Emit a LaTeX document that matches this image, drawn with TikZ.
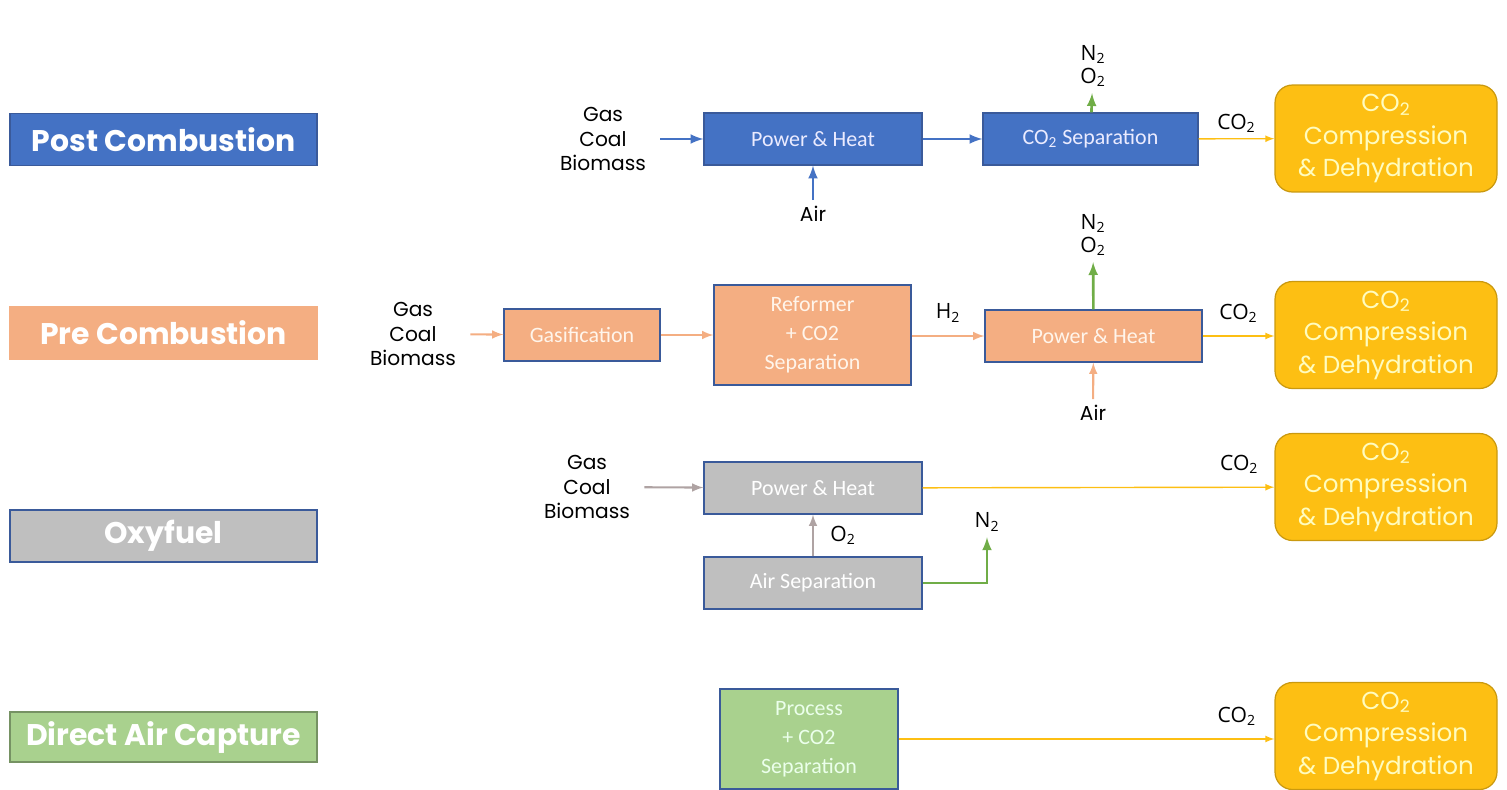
\documentclass[tikz,border=0pt]{standalone}
\usepackage{fontspec}
\setmainfont{Poppins}
\newfontfamily\boxfont{Carlito}
\newfontfamily\gasfont{Open Sans}
\usepackage{tikz}
\usetikzlibrary{arrows}

\definecolor{postblue}{HTML}{4472C4}
\definecolor{preorange}{HTML}{F4AE82}
\definecolor{oxygray}{HTML}{BFBFBF}
\definecolor{dacgreen}{HTML}{A9D18E}
\definecolor{compgold}{HTML}{FDBF13}
\definecolor{edgeblue}{HTML}{3A5A9A}
\definecolor{ventgreen}{HTML}{70AD47}
\definecolor{feedgray}{HTML}{AFA3A3}

\begin{document}
\begin{tikzpicture}[x=0.02cm, y=-0.02cm,
    route/.style = {draw, line width=0.8pt, minimum width=6.14cm, minimum height=1.04cm, text=white, font=\fontsize{17}{20}\selectfont\bfseries},
    unit/.style = {draw=edgeblue, line width=0.7pt, minimum height=1.04cm, align=center, inner sep=0pt, font=\boxfont\fontsize{12.5}{16.5}\selectfont},
    comp/.style = {draw=compgold!80!black, line width=0.7pt, fill=compgold, rounded corners=0.35cm, minimum width=4.44cm, minimum height=2.14cm, align=center, text=yellow!25, font=\fontsize{14}{18.5}\selectfont},
    feed/.style = {align=center, inner xsep=8pt, text=black, font=\fontsize{11.5}{14}\selectfont},
    gas/.style = {align=center, text=black, font=\gasfont\fontsize{12}{13.5}\selectfont}]
                \useasboundingbox (0, 0) rectangle (1507, 789);

                % pathway names
                \node[route, fill=postblue, draw=edgeblue] at (163.5, 139.5) (post) {Post Combustion};
                \node[route, fill=preorange, draw=preorange] at (163.5, 333) (pre) {Pre Combustion};
                \node[route, fill=oxygray, draw=edgeblue] at (163.5, 536) (oxy) {Oxyfuel};
                \node[route, fill=dacgreen, draw=dacgreen!70!black, minimum height=1.0cm] at (163.5, 737) (dac) {Direct Air Capture};

                % post combustion
                \node[feed] at (603, 139) (fuel1) {Gas\\Coal\\Biomass};
                \node[unit, fill=postblue, text=blue!8, minimum width=4.36cm] at (813, 139) (heat1) {Power \& Heat};
                \node[unit, fill=postblue, text=blue!8, minimum width=4.3cm] at (1090.5, 139) (sep1) {CO\textsubscript{2} Separation};
                \node[comp] at (1386, 138.5) (comp1) {CO\textsubscript{2}\\Compression\\\& Dehydration};
                \node[feed] at (813, 214) (air1) {Air};
                \node[gas] at (1093, 66) (vent1) {N\textsubscript{2}\\O\textsubscript{2}};

                \draw [-latex, postblue, line width=1.5pt] (fuel1) -- (heat1);
                \draw [-latex, postblue, line width=1.5pt] (heat1) -- (sep1);
                \draw [-latex, postblue, line width=1.5pt] (air1) -- (heat1);
                \draw [-latex, ventgreen, line width=1.5pt] (sep1) -- (vent1);
                \draw [-latex, compgold, line width=0.8pt] (sep1) -- (comp1) node [midway, above, gas] {CO\textsubscript{2}};

                % pre combustion
                \node[feed] at (413, 334) (fuel2) {Gas\\Coal\\Biomass};
                \node[unit, fill=preorange, text=orange!8, minimum width=3.12cm] at (582, 335) (gasif) {Gasification};
                \node[unit, fill=preorange, text=orange!8, minimum width=3.94cm, minimum height=2.0cm] at (812.5, 335) (reform) {Reformer\\+ CO2\\Separation};
                \node[unit, fill=preorange, text=orange!8, minimum width=4.34cm] at (1093.5, 336) (heat2) {Power \& Heat};
                \node[comp] at (1386, 335) (comp2) {CO\textsubscript{2}\\Compression\\\& Dehydration};
                \node[feed] at (1093, 413) (air2) {Air};
                \node[gas] at (1093, 235) (vent2) {N\textsubscript{2}\\O\textsubscript{2}};

                \draw [-latex, preorange, line width=1.2pt] (fuel2) -- (gasif);
                \draw [-latex, preorange, line width=1.2pt] (gasif) -- (reform);
                \draw [-latex, preorange, line width=1.2pt] (reform.east |- heat2) -- (heat2) node [midway, above=4pt, gas] {H\textsubscript{2}};
                \draw [-latex, preorange, line width=1.2pt] (air2) -- (heat2);
                \draw [-latex, ventgreen, line width=1.5pt] (heat2) -- (vent2);
                \draw [-latex, compgold, line width=0.8pt] (heat2) -- (comp2.west |- heat2) node [midway, above=4pt, gas] {CO\textsubscript{2}};

                % oxyfuel
                \node[feed] at (587, 487) (fuel3) {Gas\\Coal\\Biomass};
                \node[unit, fill=oxygray, text=white, minimum width=4.36cm] at (813, 488) (heat3) {Power \& Heat};
                \node[unit, fill=oxygray, text=white, minimum width=4.36cm] at (813, 583) (airsep) {Air Separation};
                \node[comp] at (1386, 487) (comp3) {CO\textsubscript{2}\\Compression\\\& Dehydration};
                \node[gas] at (987, 522) (vent3) {N\textsubscript{2}};

                \draw [-latex, feedgray, line width=1.2pt] (fuel3) -- (heat3);
                \draw [-latex, feedgray, line width=1.2pt] (airsep) -- (heat3) node [midway, right=6pt, gas] {O\textsubscript{2}};
                \draw [-latex, ventgreen, line width=1.5pt] (airsep) -| (vent3);
                \draw [-latex, compgold, line width=0.8pt] (heat3) -- (comp3) node [pos=0.9, above=4pt, gas] {CO\textsubscript{2}};

                % direct air capture
                \node[unit, fill=dacgreen, text=green!8, minimum width=3.56cm, minimum height=2.0cm] at (809, 739) (proc) {Process\\+ CO2\\Separation};
                \node[comp] at (1386, 736) (comp4) {CO\textsubscript{2}\\Compression\\\& Dehydration};

                \draw [-latex, compgold, line width=0.8pt] (proc) -- (comp4.west |- proc) node [pos=0.9, above=4pt, gas] {CO\textsubscript{2}};
            \end{tikzpicture}
\end{document}
